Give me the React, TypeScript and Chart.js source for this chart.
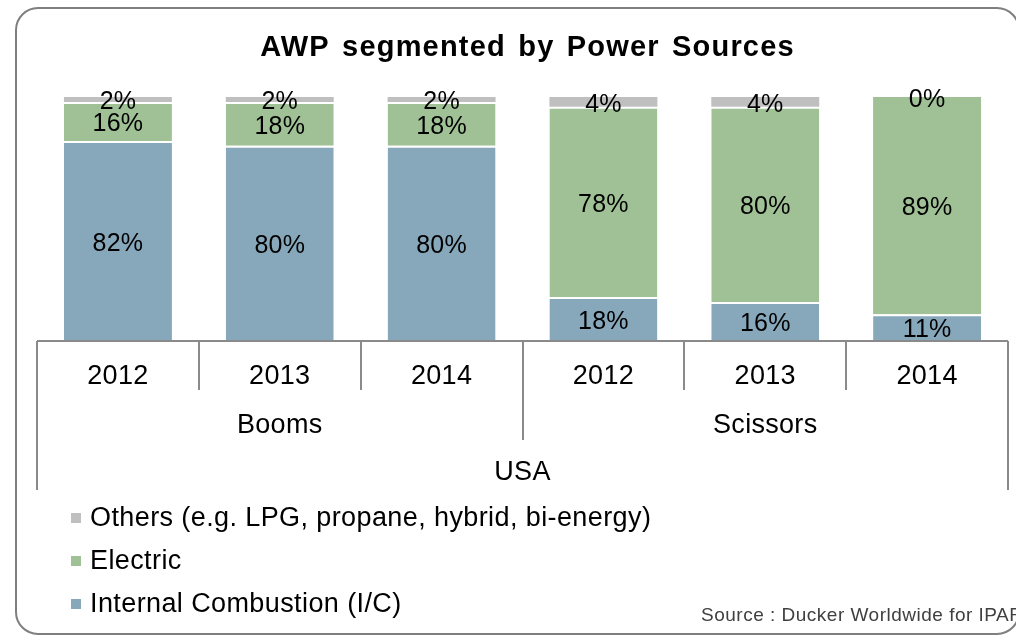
import { useEffect, useRef } from 'react';
import { Chart, registerables } from 'chart.js';

Chart.register(...registerables);

const FONT = '"Liberation Sans", Arial, Helvetica, sans-serif';

const years = ['2012', '2013', '2014', '2012', '2013', '2014'];
const groupLabels = ['Booms', 'Scissors'];
const groupSizes = [3, 3];
const regionLabel = 'USA';
const titleText = 'AWP segmented by Power Sources';
const sourceText = 'Source : Ducker Worldwide for IPAF';

const seriesNames = ['Internal Combustion (I/C)', 'Electric', 'Others (e.g. LPG, propane, hybrid, bi-energy)'];
const internalCombustion = [82, 80, 80, 18, 16, 11];
const electric = [16, 18, 18, 78, 80, 89];
const others = [2, 2, 2, 4, 4, 0];
const seriesColors = ['#87A7BB', '#A0C196', '#BFBFBF'];

const setSpacing = (ctx: any, px: number, word = 0) => {
  ctx.letterSpacing = `${px}px`;
  ctx.wordSpacing = `${word}px`;
};

const overlay = {
  id: 'overlay',
  beforeDraw(chart: any) {
    const ctx = chart.ctx;
    ctx.save();
    ctx.fillStyle = '#ffffff';
    ctx.fillRect(0, 0, chart.width, chart.height);
    ctx.strokeStyle = '#7f7f7f';
    ctx.lineWidth = 2;
    const x0 = 16, y0 = 8, x1 = 1019, y1 = 634, r = 22;
    ctx.beginPath();
    ctx.moveTo(x0 + r, y0);
    ctx.lineTo(x1 - r, y0);
    ctx.arcTo(x1, y0, x1, y0 + r, r);
    ctx.lineTo(x1, y1 - r);
    ctx.arcTo(x1, y1, x1 - r, y1, r);
    ctx.lineTo(x0 + r, y1);
    ctx.arcTo(x0, y1, x0, y1 - r, r);
    ctx.lineTo(x0, y0 + r);
    ctx.arcTo(x0, y0, x0 + r, y0, r);
    ctx.closePath();
    ctx.stroke();

    const area = chart.chartArea;
    ctx.fillStyle = '#000000';
    ctx.textAlign = 'center';
    ctx.textBaseline = 'middle';
    ctx.font = `bold 29px ${FONT}`;
    setSpacing(ctx, 1.2, 3);
    ctx.fillText(titleText, (area.left + area.right) / 2 + 5, 48);
    ctx.restore();
  },
  afterDatasetsDraw(chart: any) {
    const ctx = chart.ctx;
    ctx.save();
    ctx.font = `25px ${FONT}`;
    setSpacing(ctx, 0.2);
    ctx.fillStyle = '#000000';
    ctx.textAlign = 'center';
    ctx.textBaseline = 'middle';
    chart.data.datasets.forEach((ds: any, di: number) => {
      const meta = chart.getDatasetMeta(di);
      meta.data.forEach((el: any, i: number) => {
        const v = ds.data[i];
        const cy = (el.y + el.base) / 2 + 3;
        ctx.fillText(`${v}%`, el.x, cy);
      });
    });
    ctx.restore();
  },
  afterDraw(chart: any) {
    const ctx = chart.ctx;
    const xs = chart.scales.x;
    const area = chart.chartArea;
    const n = years.length;
    const boundary = (i: number) => {
      if (i <= 0) return area.left;
      if (i >= n) return area.right;
      return (xs.getPixelForValue(i - 1) + xs.getPixelForValue(i)) / 2;
    };
    const base = area.bottom;
    const yearBottom = base + 49;
    const groupBottom = base + 99;
    const regionBottom = base + 149;

    ctx.save();
    ctx.strokeStyle = '#8a8a8a';
    ctx.lineWidth = 2;
    ctx.beginPath();
    ctx.moveTo(area.left, base);
    ctx.lineTo(area.right, base);
    ctx.stroke();

    const groupEdges: number[] = [0];
    groupSizes.forEach((s) => groupEdges.push(groupEdges[groupEdges.length - 1] + s));

    for (let i = 0; i <= n; i++) {
      let bottom = yearBottom;
      if (i === 0 || i === n) bottom = regionBottom;
      else if (groupEdges.includes(i)) bottom = groupBottom;
      const bx = Math.round(boundary(i));
      ctx.beginPath();
      ctx.moveTo(bx, base);
      ctx.lineTo(bx, bottom);
      ctx.stroke();
    }

    ctx.fillStyle = '#000000';
    ctx.textAlign = 'center';
    ctx.textBaseline = 'middle';
    ctx.font = `27px ${FONT}`;
    setSpacing(ctx, 0.3);
    years.forEach((y, i) => {
      ctx.fillText(y, xs.getPixelForValue(i), base + 36);
    });
    groupLabels.forEach((g, gi) => {
      const cx = (boundary(groupEdges[gi]) + boundary(groupEdges[gi + 1])) / 2;
      ctx.fillText(g, cx, base + 85);
    });
    ctx.fillText(regionLabel, (area.left + area.right) / 2, base + 132);

    ctx.textAlign = 'left';
    setSpacing(ctx, 0.4);
    const rows = [2, 1, 0];
    rows.forEach((si, r) => {
      const cy = 518 + r * 43;
      ctx.fillStyle = seriesColors[si];
      ctx.fillRect(71, cy - 5, 10, 10);
      ctx.fillStyle = '#000000';
      ctx.fillText(seriesNames[si], 90, cy + 1);
    });

    ctx.font = `19px ${FONT}`;
    setSpacing(ctx, 0.5);
    ctx.fillStyle = '#404040';
    ctx.fillText(sourceText, 701, 616);
    ctx.restore();
  },
};

export default function App() {
  const ref = useRef<HTMLCanvasElement | null>(null);
  useEffect(() => {
    if (!ref.current) return;
    const chart = new Chart(ref.current, {
      type: 'bar',
      data: {
        labels: years,
        datasets: [
          {
            label: seriesNames[0],
            data: internalCombustion,
            backgroundColor: seriesColors[0],
            borderColor: '#ffffff',
            borderWidth: { top: 2, left: 0, right: 0, bottom: 0 },
            borderSkipped: false,
          },
          {
            label: seriesNames[1],
            data: electric,
            backgroundColor: seriesColors[1],
            borderColor: '#ffffff',
            borderWidth: (c: any) => ({ top: others[c.dataIndex] > 0 ? 2 : 0, left: 0, right: 0, bottom: 0 }),
            borderSkipped: false,
          },
          {
            label: seriesNames[2],
            data: others,
            backgroundColor: seriesColors[2],
            borderWidth: 0,
          },
        ],
      } as any,
      options: {
        animation: false,
        responsive: true,
        maintainAspectRatio: false,
        layout: { padding: { left: 37, right: 8, top: 97, bottom: 296 } },
        scales: {
          x: {
            display: false,
            stacked: true,
            offset: true,
          },
          y: {
            display: false,
            stacked: true,
            min: 0,
            max: 100,
          },
        },
        datasets: {
          bar: { categoryPercentage: 1, barPercentage: 0.667 },
        } as any,
        plugins: {
          legend: { display: false },
          tooltip: { enabled: false },
          title: { display: false },
        },
      } as any,
      plugins: [overlay],
    });
    return () => chart.destroy();
  }, []);
  return (
    <div style={{ position: 'fixed', left: 0, top: 0, width: 1016, height: 637, background: '#fff' }}>
      <canvas ref={ref} />
    </div>
  );
}
